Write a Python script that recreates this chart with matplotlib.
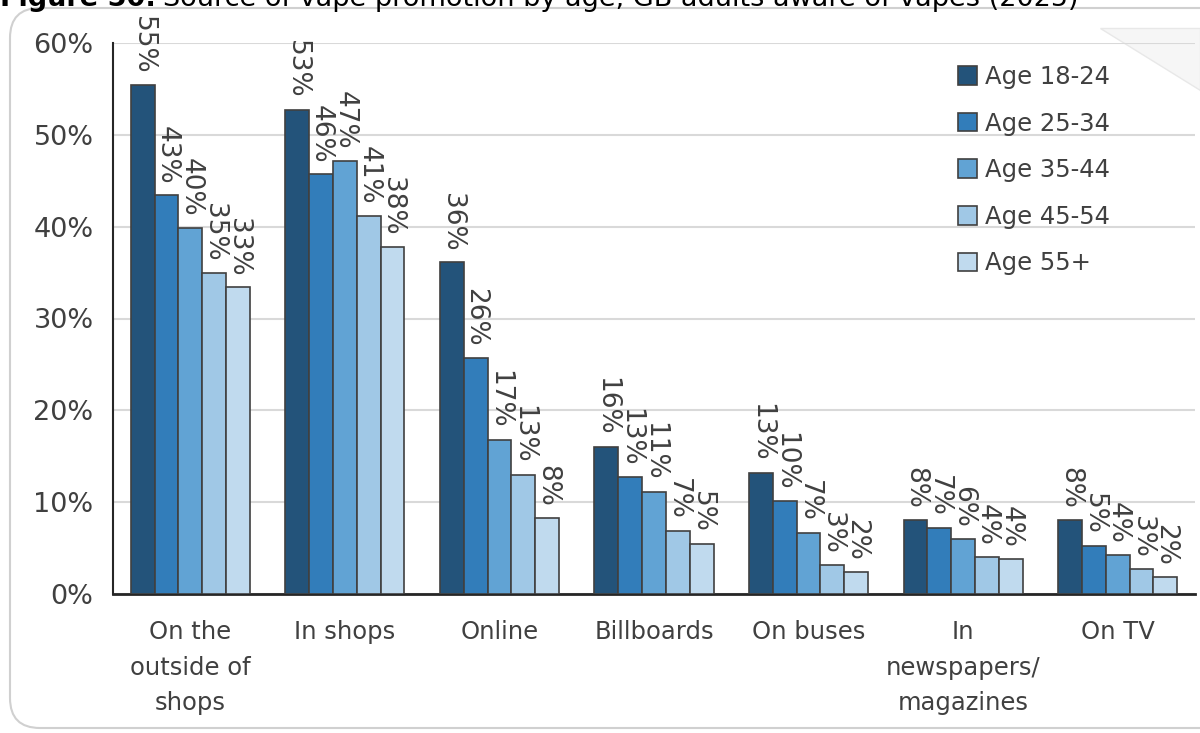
import matplotlib
matplotlib.use("Agg")
import matplotlib.pyplot as plt
from matplotlib.patches import FancyBboxPatch, Polygon
import numpy as np

categories = ["On the\noutside of\nshops", "In shops", "Online", "Billboards",
              "On buses", "In\nnewspapers/\nmagazines", "On TV"]
series_names = ["Age 18-24", "Age 25-34", "Age 35-44", "Age 45-54", "Age 55+"]
age_18_24 = [55.4, 52.7, 36.1, 16.0, 13.2, 8.1, 8.1]
age_25_34 = [43.4, 45.7, 25.7, 12.7, 10.1, 7.2, 5.2]
age_35_44 = [39.9, 47.2, 16.8, 11.1, 6.6, 6.0, 4.2]
age_45_54 = [35.0, 41.2, 13.0, 6.9, 3.2, 4.0, 2.7]
age_55_plus = [33.4, 37.8, 8.3, 5.4, 2.4, 3.8, 1.9]
y_ticks = [0, 10, 20, 30, 40, 50, 60]
title_prefix = "Figure 50:"
title_text = "Source of vape promotion by age, GB adults aware of vapes (2025)"

series = [age_18_24, age_25_34, age_35_44, age_45_54, age_55_plus]
colors = ["#23537a", "#327dba", "#61a3d4", "#a0c8e6", "#c0daee"]
edge = "#404040"
txt = "#404040"

plt.rcParams['font.family'] = ['DejaVu Sans']

fig = plt.figure(figsize=(12, 7.33), dpi=100)
W, H = 1200, 733

# Rounded outer box
box = FancyBboxPatch((10 / W, 5 / H), 1.2, 1 - 13 / H,
                     boxstyle="round,pad=0,rounding_size=0.025",
                     mutation_aspect=W / H,
                     transform=fig.transFigure, facecolor="white",
                     edgecolor="#d0d0d0", linewidth=1.5, zorder=0)
fig.patches.append(box)
fold = Polygon([(1100 / W, 1 - 28 / H), (1200 / W, 1 - 28 / H), (1200 / W, 1 - 90 / H)],
               closed=True, transform=fig.transFigure, facecolor="#f6f6f6",
               edgecolor="#e8e8e8", linewidth=1, zorder=0.5)
fig.patches.append(fold)

# Clipped title at top
renderer = fig.canvas.get_renderer()
t1 = fig.text(0.0, 1 - 6 / H, title_prefix, fontsize=19.5, fontweight="bold",
              color="black", va="baseline", ha="left")
ext = t1.get_window_extent(renderer=renderer)
fig.text(ext.x1 / W + 7 / W, 1 - 6 / H, title_text, fontsize=19.5, color="black",
         va="baseline", ha="left")

ax = fig.add_axes([113 / W, 1 - 594 / H, (1195 - 113) / W, (594 - 43) / H])
ax.set_facecolor("none")
ax.set_zorder(2)

n = len(series)
bw = 0.154
x = np.arange(len(categories))
for i, (vals, col, name) in enumerate(zip(series, colors, series_names)):
    pos = x + (i - (n - 1) / 2) * bw
    bars = ax.bar(pos, vals, bw, color=col, edgecolor=edge, linewidth=1.2,
                  label=name, zorder=3)
    for b, v in zip(bars, vals):
        ax.annotate(f"{round(v):d}%", (b.get_x() + b.get_width() / 2, v),
                    xytext=(0, 8), textcoords="offset points",
                    rotation=270, ha="center", va="bottom",
                    fontsize=19, color=txt, annotation_clip=False, zorder=4)

ax.set_xlim(-0.5, len(categories) - 0.5)
ax.set_ylim(0, 60)
ax.set_yticks(y_ticks)
ax.set_yticklabels([f"{t}%" for t in y_ticks])
ax.set_xticks(x)
ax.set_xticklabels(categories, linespacing=1.6)
ax.tick_params(axis="both", length=0, labelcolor=txt)
ax.tick_params(axis="y", pad=14, labelsize=19.5)
ax.tick_params(axis="x", pad=19, labelsize=17.5)
ax.grid(axis="y", color="#d9d9d9", linewidth=1.5, zorder=0)
for s in ["top", "right"]:
    ax.spines[s].set_visible(False)
ax.spines["left"].set_color("#262626")
ax.spines["left"].set_linewidth(1.5)
ax.spines["bottom"].set_color("#262626")
ax.spines["bottom"].set_linewidth(2)

leg = ax.legend(loc="upper left", bbox_to_anchor=(958 / W, 1 - 65 / H),
                bbox_transform=fig.transFigure, frameon=False,
                fontsize=17.5, handlelength=0.8, handleheight=0.8,
                handletextpad=0.3, labelspacing=0.93, borderpad=0,
                borderaxespad=0)
for t in leg.get_texts():
    t.set_color(txt)

fig.savefig("out.png", dpi=100)
